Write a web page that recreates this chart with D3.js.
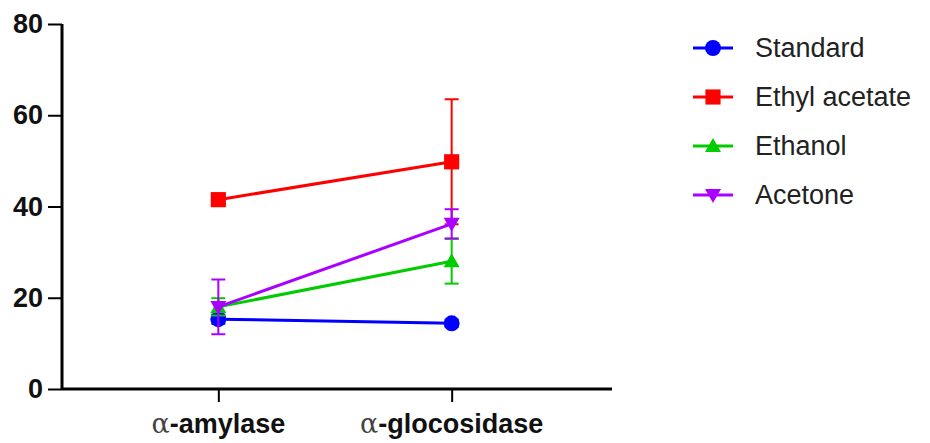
<!DOCTYPE html>
<html>
<head>
<meta charset="utf-8">
<script src="https://cdn.jsdelivr.net/npm/d3@7"></script>
<style>
  body { margin: 0; background: #fff; }
  svg { display: block; font-family: "Liberation Sans", Arial, sans-serif; }
</style>
</head>
<body>
<svg id="chart" width="930" height="443"></svg>
<script>
// --- data ---
const categories = ['amylase', 'glocosidase'];
const seriesNames = ['Standard', 'Ethyl acetate', 'Ethanol', 'Acetone'];
const standardVals = [15.3, 14.4];
const standardErr = [1.0, 0.8];
const ethylVals = [41.5, 49.8];
const ethylErr = [1.0, 13.7];
const ethanolVals = [18.0, 28.0];
const ethanolErr = [1.9, 4.9];
const acetoneVals = [18.0, 36.2];
const acetoneErr = [6.0, 3.2];
const yTicks = [0, 20, 40, 60, 80];

const series = [
  { name: seriesNames[0], vals: standardVals, err: standardErr, color: '#0000ff', shape: 'circle' },
  { name: seriesNames[1], vals: ethylVals, err: ethylErr, color: '#ff0000', shape: 'square' },
  { name: seriesNames[2], vals: ethanolVals, err: ethanolErr, color: '#00cc00', shape: 'up' },
  { name: seriesNames[3], vals: acetoneVals, err: acetoneErr, color: '#aa00ff', shape: 'down' }
];

const svg = d3.select('#chart');

const x = d3.scalePoint().domain(categories).range([62, 608]).padding(0.67);
const y = d3.scaleLinear().domain([0, 80]).range([389, 24]);

// markers
function symbolPath(shape) {
  if (shape === 'circle') return d3.symbol(d3.symbolCircle, 200)();
  if (shape === 'square') return d3.symbol(d3.symbolSquare, 230)();
  if (shape === 'up') return 'M0,-8L8,6L-8,6Z';
  return 'M0,8L8,-6L-8,-6Z';
}

// axes
const yAxis = svg.append('g')
  .attr('transform', 'translate(62,0)')
  .call(d3.axisLeft(y).tickValues(yTicks).tickSize(14).tickPadding(5));
const xAxis = svg.append('g')
  .attr('transform', 'translate(0,389)')
  .call(d3.axisBottom(x).tickSize(13).tickFormat(''));

[yAxis, xAxis].forEach(g => {
  g.select('.domain').attr('stroke', '#000').attr('stroke-width', 3);
  g.selectAll('.tick line').attr('stroke', '#000').attr('stroke-width', 2);
});
yAxis.select('.domain').attr('d', 'M0,24V389');
xAxis.select('.domain').attr('d', 'M62,0H612');
yAxis.selectAll('.tick text')
  .attr('font-size', 27).attr('font-weight', 'bold').attr('fill', '#111')
  .attr('font-family', '"Liberation Sans", Arial, sans-serif');

// category labels with alpha prefix
const catLabels = svg.append('g').selectAll('text').data(categories).join('text')
  .attr('x', d => x(d))
  .attr('y', 433)
  .attr('text-anchor', 'middle')
  .attr('font-size', 27)
  .attr('fill', '#111');
catLabels.append('tspan').attr('font-family', '"DejaVu Serif", serif').attr('font-weight', 'normal').attr('fill', '#444').text('\u03b1');
catLabels.append('tspan').attr('font-weight', 'bold').text(d => '-' + d);

// lines, error bars, markers
const line = d3.line().x((d, i) => x(categories[i])).y(d => y(d));
const plot = svg.append('g');

series.forEach(s => {
  const g = plot.append('g');
  g.append('path').attr('d', line(s.vals)).attr('fill', 'none')
    .attr('stroke', s.color).attr('stroke-width', 3);
  s.vals.forEach((v, i) => {
    const cx = x(categories[i]);
    const eb = g.append('g').attr('stroke', s.color).attr('stroke-width', 2);
    eb.append('line').attr('x1', cx).attr('x2', cx).attr('y1', y(v - s.err[i])).attr('y2', y(v + s.err[i]));
    [v - s.err[i], v + s.err[i]].forEach(e => {
      eb.append('line').attr('x1', cx - 7).attr('x2', cx + 7).attr('y1', y(e)).attr('y2', y(e));
    });
  });
  g.selectAll('path.mark').data(s.vals).join('path').attr('class', 'mark')
    .attr('transform', (d, i) => `translate(${x(categories[i])},${y(d)})`)
    .attr('d', symbolPath(s.shape))
    .attr('fill', s.color);
});

// legend
const legend = svg.append('g').attr('transform', 'translate(693,48)');
const rows = legend.selectAll('g').data(series).join('g')
  .attr('transform', (d, i) => `translate(0,${i * 49})`);
rows.append('line').attr('x1', 0).attr('x2', 40).attr('stroke', d => d.color).attr('stroke-width', 3);
rows.append('path').attr('transform', 'translate(20,0)').attr('d', d => symbolPath(d.shape)).attr('fill', d => d.color);
rows.append('text').attr('x', 62).attr('dy', '0.35em').attr('font-size', 27).attr('fill', '#222').text(d => d.name);
</script>
</body>
</html>
